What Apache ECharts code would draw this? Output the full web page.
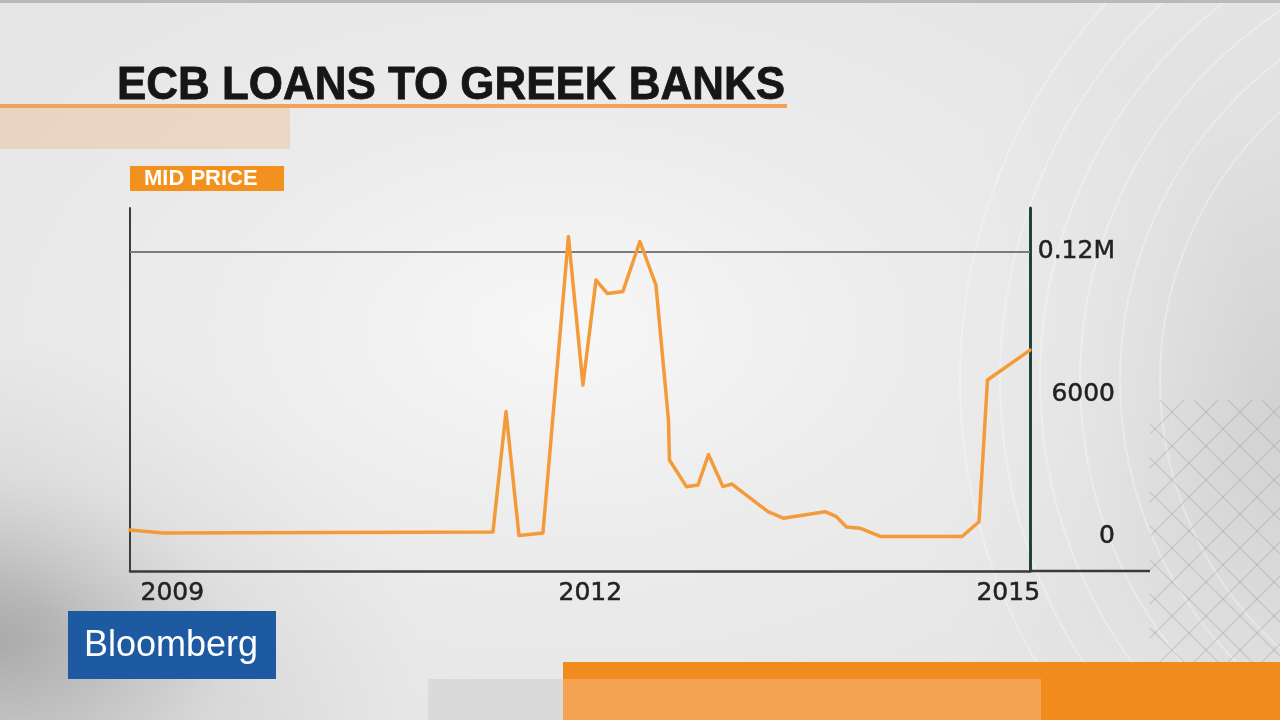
<!DOCTYPE html>
<html>
<head>
<meta charset="utf-8">
<script src="https://cdn.jsdelivr.net/npm/echarts@6/dist/echarts.min.js"></script>
<style>
html,body{margin:0;padding:0;width:1280px;height:720px;overflow:hidden;}
body{
  background:
    radial-gradient(ellipse 700px 420px at 560px 330px, rgba(248,248,248,0.95) 0%, rgba(240,240,240,0.6) 50%, rgba(240,240,240,0) 100%),
    radial-gradient(ellipse 420px 300px at 0px 640px, rgba(150,150,150,0.75) 0%, rgba(190,190,190,0.35) 55%, rgba(210,210,210,0) 100%),
    radial-gradient(ellipse 380px 520px at 1300px 420px, rgba(200,200,200,0.7) 0%, rgba(215,215,215,0.3) 60%, rgba(225,225,225,0) 100%),
    #e6e6e6;
}
#chart{width:1280px;height:720px;}
</style>
</head>
<body>
<div id="chart"></div>
<script>
// ---- data ----
var title = 'ECB LOANS TO GREEK BANKS';
var seriesLabel = 'MID PRICE';
var brand = 'Bloomberg';
// dates as decimal years
var dates = [2008.696, 2008.933, 2011.301, 2011.395, 2011.488, 2011.660, 2011.843, 2011.947,
             2012.041, 2012.123, 2012.234, 2012.356, 2012.471, 2012.561, 2012.568, 2012.690,
             2012.773, 2012.848, 2012.952, 2013.017, 2013.275, 2013.386, 2013.684, 2013.767,
             2013.839, 2013.939, 2014.086, 2014.668, 2014.790, 2014.851, 2015.156];
var values = [2900, 1700, 2100, 52800, 600, 1700, 126500, 64000,
              108200, 102500, 103400, 124400, 106100, 49300, 32400, 21200,
              21900, 34700, 21200, 22300, 10650, 7900, 10650, 8550,
              4200, 3660, 200, 200, 6440, 66100, 78700];
var xTicks = [2009, 2012, 2015];
var xTickLabels = ['2009', '2012', '2015'];
var yTicks = [0, 60000, 120000];
var yTickLabels = ['0', '6000', '0.12M'];
var gridValue = 120000;
var xRange = [2008.696, 2015.156];
var yRange = [-14316, 138526];

var points = dates.map(function (d, i) { return [d, values[i]]; });

var chart = echarts.init(document.getElementById('chart'), null, {renderer: 'canvas'});
var labelFont = '"DejaVu Sans", "Liberation Sans", sans-serif';

var deco = [];
// right-side architectural structure (background decoration)
for (var k = 0; k < 6; k++) {
  deco.push({type: 'arc', silent: true, z: -10,
    shape: {cx: 1520, cy: 380, r: 360 + k * 40, startAngle: Math.PI * 0.6, endAngle: Math.PI * 1.4},
    style: {stroke: 'rgba(255,255,255,0.3)', lineWidth: 2, fill: null}});
}
// crosshatch clipped to the box [X0,X1]x[Y0,Y1]
var X0 = 1150, X1 = 1280, Y0 = 400, Y1 = 662;
for (var c = X0 + Y0; c <= X1 + Y1; c += 34) {
  // lines x + y = c
  var xa = Math.max(X0, c - Y1), xb = Math.min(X1, c - Y0);
  if (xb > xa) deco.push({type: 'line', silent: true, z: -10,
    shape: {x1: xa, y1: c - xa, x2: xb, y2: c - xb},
    style: {stroke: 'rgba(140,140,140,0.25)', lineWidth: 1.5}});
}
for (var d = X0 - Y1; d <= X1 - Y0; d += 34) {
  // lines x - y = d
  var xc = Math.max(X0, d + Y0), xe = Math.min(X1, d + Y1);
  if (xe > xc) deco.push({type: 'line', silent: true, z: -10,
    shape: {x1: xc, y1: xc - d, x2: xe, y2: xe - d},
    style: {stroke: 'rgba(140,140,140,0.25)', lineWidth: 1.5}});
}

var graphics = deco.concat([
  // top thin bar
  {type: 'rect', silent: true, shape: {x: 0, y: 0, width: 1280, height: 3}, style: {fill: '#b9b9b9'}},
  // title
  {type: 'text', silent: true, x: 117, y: 86, scaleX: 0.955,
    style: {text: title, font: 'bold 46px "Liberation Sans", Arial, sans-serif', fill: '#161616',
      align: 'left', verticalAlign: 'middle', stroke: '#161616', lineWidth: 0.8}},
  // orange underline
  {type: 'rect', silent: true, shape: {x: 0, y: 104, width: 787, height: 4}, style: {fill: '#f2a25a'}},
  // hatched band under title
  {type: 'rect', silent: true, shape: {x: 0, y: 108, width: 290, height: 41}, style: {fill: 'rgba(240,165,100,0.28)'}},
  // MID PRICE tag
  {type: 'rect', silent: true, shape: {x: 130, y: 166, width: 154, height: 25}, style: {fill: '#f3911f'}},
  {type: 'text', silent: true, x: 144, y: 179,
    style: {text: seriesLabel, font: 'bold 22px "Liberation Sans", Arial, sans-serif', fill: '#ffffff',
      align: 'left', verticalAlign: 'middle'}},
  // x-axis line extension beyond the right axis
  {type: 'line', silent: true, shape: {x1: 1030, y1: 571, x2: 1150, y2: 571},
    style: {stroke: '#3a3a3a', lineWidth: 2.5}},
  // Bloomberg logo
  {type: 'rect', silent: true, shape: {x: 68, y: 611, width: 208, height: 68}, style: {fill: '#1d5aa2'}},
  {type: 'text', silent: true, x: 84, y: 646,
    style: {text: brand, font: '36px "Liberation Sans", Arial, sans-serif', fill: '#ffffff',
      align: 'left', verticalAlign: 'middle'}},
  // bottom bars
  {type: 'rect', silent: true, shape: {x: 428, y: 679, width: 135, height: 41}, style: {fill: '#dadada'}},
  {type: 'rect', silent: true, shape: {x: 563, y: 662, width: 717, height: 58}, style: {fill: '#f28b1e'}},
  {type: 'rect', silent: true, shape: {x: 563, y: 679, width: 478, height: 41}, style: {fill: '#f5a454'}}
]);

var option = {
  animation: false,
  backgroundColor: 'transparent',
  grid: {left: 130, right: 250, top: 208, bottom: 149, containLabel: false},
  xAxis: {
    type: 'value', min: xRange[0], max: xRange[1],
    axisLine: {show: true, onZero: false, lineStyle: {color: '#3a3a3a', width: 2.5}},
    axisTick: {show: false},
    splitLine: {show: false},
    axisLabel: {
      customValues: xTicks,
      formatter: function (v) { var i = xTicks.indexOf(v); return i >= 0 ? xTickLabels[i] : ''; },
      color: '#222222', fontSize: 25, fontFamily: labelFont, margin: 10,
      textBorderColor: '#222222', textBorderWidth: 0.5,
      showMinLabel: true, showMaxLabel: true
    }
  },
  yAxis: [{
    type: 'value', position: 'right', min: yRange[0], max: yRange[1],
    axisLine: {show: true, onZero: false, lineStyle: {color: '#21423e', width: 3}},
    axisTick: {show: false},
    splitLine: {show: false},
    axisLabel: {
      customValues: yTicks,
      formatter: function (v) { var i = yTicks.indexOf(v); return i >= 0 ? yTickLabels[i] : ''; },
      color: '#222222', fontSize: 25, fontFamily: labelFont, align: 'right', margin: 85,
      textBorderColor: '#222222', textBorderWidth: 0.5
    }
  }, {
    type: 'value', position: 'left', min: yRange[0], max: yRange[1],
    axisLine: {show: true, onZero: false, lineStyle: {color: '#3c3c3c', width: 2}},
    axisTick: {show: false},
    splitLine: {show: false},
    axisLabel: {show: false}
  }],
  series: [{
    type: 'line', yAxisIndex: 0, data: points,
    showSymbol: false, symbol: 'none', smooth: false,
    lineStyle: {color: '#f59a3a', width: 3.5, join: 'round', cap: 'round'},
    markLine: {
      silent: true, symbol: ['none', 'none'], label: {show: false},
      lineStyle: {color: '#7c7c7c', width: 2, type: 'solid'},
      data: [{yAxis: gridValue}],
      z: 1
    },
    z: 3
  }],
  graphic: graphics
};
chart.setOption(option);
</script>
</body>
</html>
